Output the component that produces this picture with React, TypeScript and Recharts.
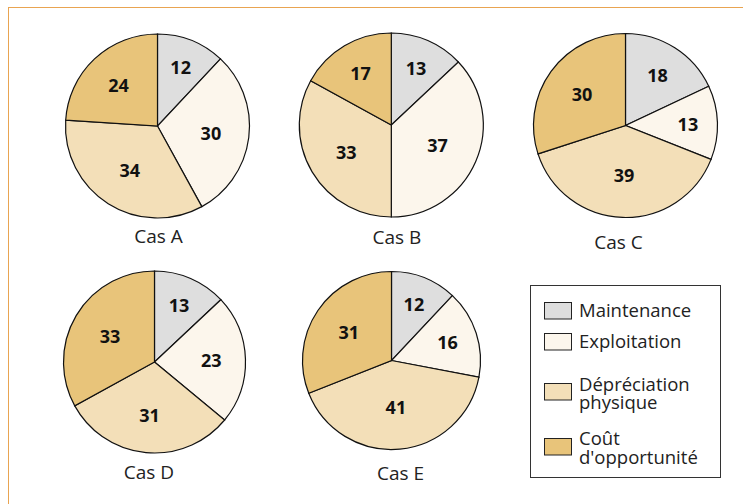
import React from "react";
import { PieChart, Pie, Cell, Legend, Customized } from "recharts";

const categories = ["Maintenance", "Exploitation", "Dépréciation physique", "Coût d'opportunité"];
const legendLines = [["Maintenance"], ["Exploitation"], ["Dépréciation", "physique"], ["Coût", "d'opportunité"]];
const caseNames = ["Cas A", "Cas B", "Cas C", "Cas D", "Cas E"];
const casA = [12, 30, 34, 24];
const casB = [13, 37, 33, 17];
const casC = [18, 13, 39, 30];
const casD = [13, 23, 31, 33];
const casE = [12, 16, 41, 31];
const allCases = [casA, casB, casC, casD, casE];

const COLORS = ["#DEDEDE", "#FCF6EC", "#F3DFB8", "#E8C47A"];
const FONT = "'Open Sans', 'DejaVu Sans', sans-serif";

// layout (pixels)
const PIES = [
  { cx: 157.5, cy: 126, r: 92, lx: 158.5, ly: 243 },
  { cx: 391.3, cy: 125, r: 92, lx: 397, ly: 244 },
  { cx: 625.5, cy: 125.5, r: 92, lx: 618.5, ly: 249 },
  { cx: 154.5, cy: 362, r: 91, lx: 149, ly: 479 },
  { cx: 391.5, cy: 360.5, r: 89, lx: 400.5, ly: 480 },
];

const RAD = Math.PI / 180;

const renderLabel = (props: any) => {
  const { cx, cy, midAngle, outerRadius, value } = props;
  const f = 0.75 - 0.0055 * value;
  const r = outerRadius * f;
  const x = cx + r * Math.cos(-midAngle * RAD);
  const y = cy + r * Math.sin(-midAngle * RAD);
  return (
    <text
      x={x}
      y={y}
      textAnchor="middle"
      dominantBaseline="central"
      fontFamily={FONT}
      fontWeight={700}
      fontSize={18}
      fill="#111"
    >
      {value}
    </text>
  );
};

const LegendBox = () => {
  const swY = [302, 333, 383, 438];
  const textY = [316.7, 348.3, 390.5, 445];
  const lineGap = 18.5;
  return (
    <svg width={743} height={504} style={{ position: "absolute", left: 0, top: 0 }}>
      <rect x={530.5} y={285.5} width={190} height={192} fill="#fff" stroke="#333" strokeWidth={1} />
      {categories.map((c, i) => (
        <g key={c}>
          <rect x={544.5} y={swY[i] + 0.5} width={27} height={16.5} fill={COLORS[i]} stroke="#222" strokeWidth={1} />
          <text x={579} y={textY[i]} fontFamily={FONT} fontSize={18.5} fill="#222">
            {legendLines[i].map((t, j) => (
              <tspan key={j} x={579} dy={j === 0 ? 0 : lineGap}>
                {t}
              </tspan>
            ))}
          </text>
        </g>
      ))}
    </svg>
  );
};

const pieData = allCases.map((vals) => vals.map((v, i) => ({ name: categories[i], value: v })));

export default function App() {
  return (
    <div style={{ position: "absolute", left: 0, top: 0, width: 743, height: 504, background: "#fff" }}>
      <div
        style={{
          position: "absolute",
          left: 7.5,
          top: 6.5,
          width: 743,
          height: 504,
          borderTop: "1.5px solid #E9A451",
          borderLeft: "1.5px solid #E9A451",
        }}
      />
      <PieChart width={743} height={504} margin={{ top: 0, right: 0, bottom: 0, left: 0 }} style={{ position: "absolute", left: 0, top: 0 }}>
        {pieData.map((data, k) => (
          <Pie
            key={k}
            data={data}
            dataKey="value"
            nameKey="name"
            cx={PIES[k].cx}
            cy={PIES[k].cy}
            outerRadius={PIES[k].r}
            innerRadius={0}
            startAngle={90}
            endAngle={-270}
            stroke="#111"
            strokeWidth={1.2}
            label={renderLabel}
            labelLine={false}
            isAnimationActive={false}
          >
            {data.map((d, i) => (
              <Cell key={i} fill={COLORS[i]} />
            ))}
          </Pie>
        ))}
        <Customized
          component={() => (
            <g>
              {caseNames.map((n, k) => (
                <text key={n} x={PIES[k].lx} y={PIES[k].ly} textAnchor="middle" fontFamily={FONT} fontSize={19} fill="#222">
                  {n}
                </text>
              ))}
            </g>
          )}
        />
        <Legend content={() => <LegendBox />} wrapperStyle={{ position: "absolute", left: 0, top: 0, width: 743, height: 504 }} />
      </PieChart>
    </div>
  );
}
